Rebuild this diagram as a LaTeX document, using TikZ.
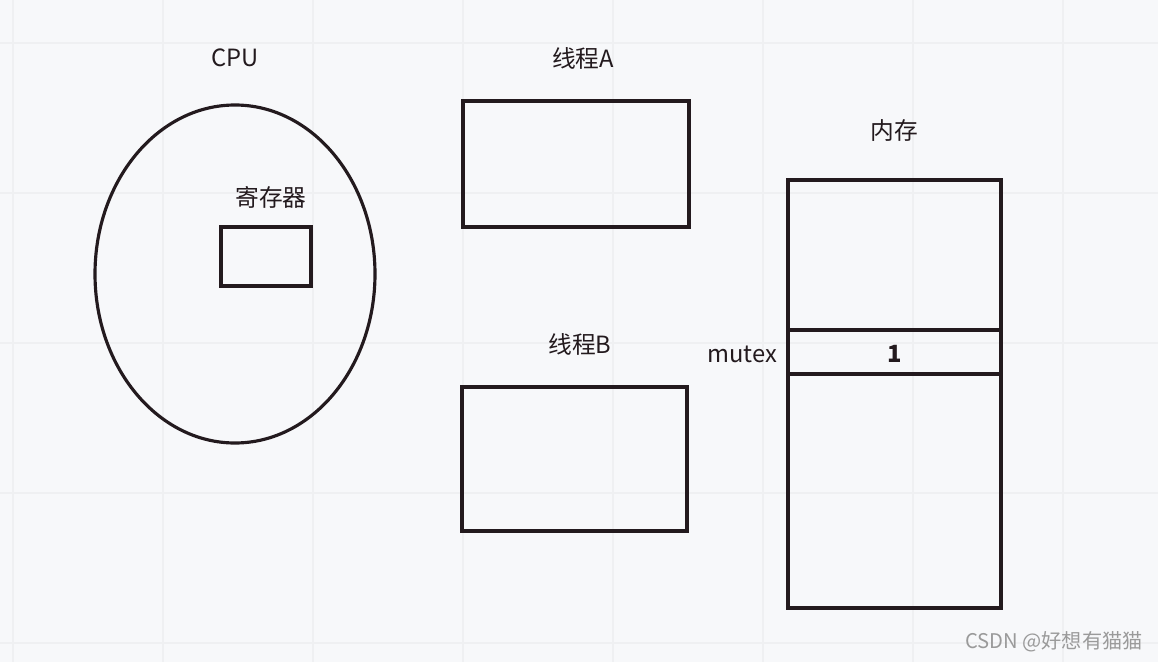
\documentclass[tikz,border=0pt]{standalone}
\usepackage{fontspec}
\newfontfamily\cjk{Noto Sans CJK SC}
\definecolor{paper}{HTML}{F7F8FA}
\definecolor{gridline}{HTML}{EFF0F2}
\definecolor{ink}{HTML}{231A1E}
\definecolor{wmgray}{HTML}{9A9A9A}
\begin{document}
\begin{tikzpicture}[x={(0.02cm,0)},y={(0,-0.02cm)},
  lbl/.style={font=\cjk\fontsize{13.5}{16}\selectfont,text=ink,inner sep=0pt},
  outline/.style={draw=ink,line width=1.8pt}]
  \fill[paper] (0,0) rectangle (1158,662);
  \useasboundingbox (0,0) rectangle (1158,662);
  \foreach \gx in {13,163,...,1063}
    \draw[gridline,line width=0.8pt] (\gx,0) -- (\gx,662);
  \foreach \gy in {43,193,...,643}
    \draw[gridline,line width=0.8pt] (0,\gy) -- (1158,\gy);

  % cpu
  \node[lbl] (cpu) at (235,58) {CPU};
  \draw[outline] (235,274) ellipse [x radius=140, y radius=169];
  \node[lbl] (reg) at (271,197) {寄存器};
  \draw[outline] (221,227) rectangle (311,286);

  % threads
  \node[lbl] (ta) at (583,58) {线程A};
  \draw[outline] (463,101) rectangle (689,227);
  \node[lbl] (tb) at (580,344) {线程B};
  \draw[outline] (462,387) rectangle (687,531);

  % memory
  \node[lbl] (mem) at (894,131) {内存};
  \draw[outline] (788,180) rectangle (1001,608);
  \draw[outline] (788,330) -- (1001,330);
  \draw[outline] (788,374) -- (1001,374);
  \node[lbl] (mutex) at (742,354) {mutex};
  \node[lbl,font=\cjk\bfseries\fontsize{13.5}{16}\selectfont] (val) at (895,354) {1};

  \node[font=\cjk\fontsize{11.5}{14}\selectfont,text=wmgray,inner sep=0pt,anchor=east] (wm) at (1143,642) {CSDN @好想有猫猫};
\end{tikzpicture}
\end{document}
